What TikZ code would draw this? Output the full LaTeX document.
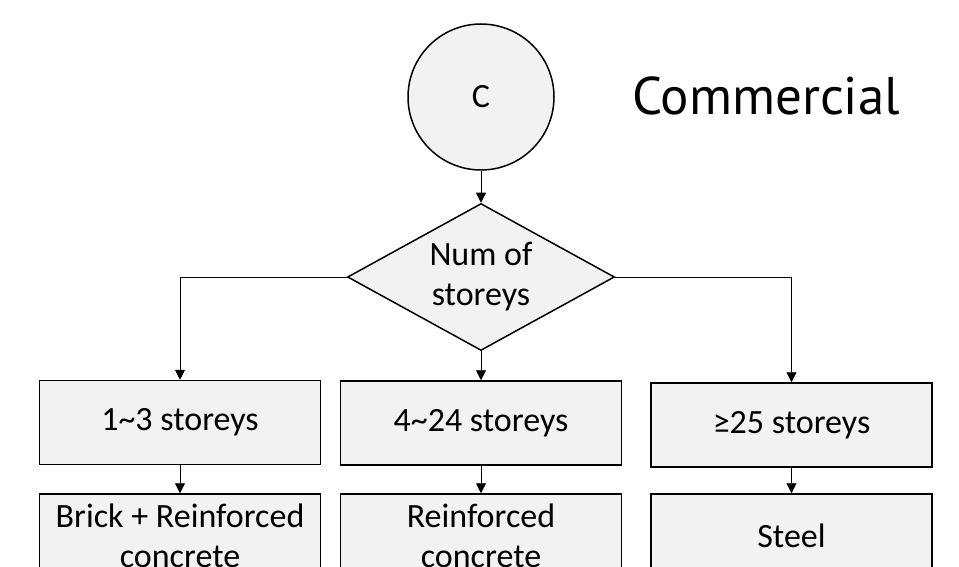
\documentclass[tikz,border=0pt]{standalone}
\usepackage{fontspec}
\setmainfont{Carlito}
\newfontfamily\titlefont{PT Sans}
\usepackage{tikz}
\usetikzlibrary{shapes.geometric,arrows.meta}
\definecolor{lightgrey}{rgb}{0.95,0.95,0.95}

\begin{document}
\begin{tikzpicture}[x=1pt,y=-1pt,
  every node/.style={font=\fontsize{34}{40}\selectfont},
  start/.style={draw,circle,line width=1.5pt,fill=lightgrey,minimum size=146pt,inner sep=0pt},
  decision/.style={draw,diamond,line width=1.5pt,fill=lightgrey,aspect=1.8,minimum width=267pt,minimum height=147pt,inner sep=0pt,align=center},
  box/.style={draw,line width=1.5pt,fill=lightgrey,minimum width=281pt,minimum height=84pt,inner sep=0pt,align=center},
  link/.style={line width=0.9pt,-{Triangle[length=10pt,width=10pt]}}]
            \useasboundingbox (0,0) rectangle (959,567);
            \clip (0,0) rectangle (959,567);
            \node[start] (c) at (481,97) {C};
            \node[font=\titlefont\fontsize{53}{60}\selectfont, anchor=base] (title) at (766,115) {Commercial};
            \node[decision] (q) at (481,277) {Num of\\storeys};
            \node[box] (b1) at (180,422.5) {1\textasciitilde3 storeys};
            \node[box] (b2) at (481,423) {4\textasciitilde24 storeys};
            \node[box] (b3) at (791.5,425) {≥25 storeys};
            \node[box] (m1) at (180,536) {Brick + Reinforced\\concrete};
            \node[box] (m2) at (481,536) {Reinforced\\concrete};
            \node[box] (m3) at (791.5,536) {Steel};
            \draw[link] (c) -- (q);
            \draw[link] (q.west) -| (b1);
            \draw[link] (q) -- (b2);
            \draw[link] (q.east) -| (b3);
            \draw[link] (b1) -- (m1);
            \draw[link] (b2) -- (m2);
            \draw[link] (b3) -- (m3);
        \end{tikzpicture}
\end{document}
